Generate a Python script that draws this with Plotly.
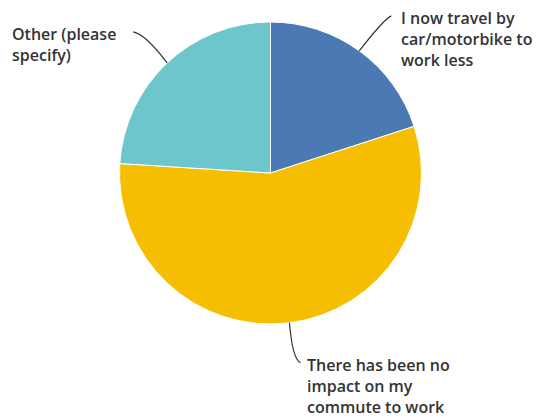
import math
import plotly.graph_objects as go

labels = ["I now travel by car/motorbike to work less",
          "There has been no impact on my commute to work",
          "Other (please specify)"]
label_text = ["I now travel by<br>car/motorbike to<br>work less",
              "There has been no<br>impact on my<br>commute to work",
              "Other (please<br>specify)"]
values = [20, 56, 24]
colors = ["#4b79b4", "#f6be00", "#6cc6cb"]

W, H = 541, 418
OFF = 8  # page body margin
cx, cy, r = 270.5, 173, 151

# label text positions (screen pixels, top-left) and leader curve offsets
text_pos = [(399, 5), (305, 352), (10, 21)]
ctrl_off = [(25, -32), (3, 36), (-22, -29)]
end_off = [(32, -35), (11, 40), (-34, -31)]


def px(x, y):
    return (x - OFF) / W, 1 - (y - OFF) / H


d0 = px(cx - r, cy + r)
d1 = px(cx + r, cy - r)

fig = go.Figure(go.Pie(
    labels=labels, values=values, sort=False, direction="clockwise", rotation=0,
    marker=dict(colors=colors, line=dict(color="white", width=1)),
    textinfo="none", hoverinfo="label+percent", showlegend=False,
    domain=dict(x=[d0[0], d1[0]], y=[d0[1], d1[1]]),
))

total = sum(values)
cum = 0
shapes = []
annotations = []
for i, v in enumerate(values):
    mid = (cum + v / 2) / total
    cum += v
    th = 2 * math.pi * mid
    p = (cx + r * math.sin(th), cy - r * math.cos(th))
    c = (p[0] + ctrl_off[i][0], p[1] + ctrl_off[i][1])
    e = (p[0] + end_off[i][0], p[1] + end_off[i][1])
    P, C, E = px(*p), px(*c), px(*e)
    shapes.append(dict(type="path", xref="paper", yref="paper",
                       path=f"M {P[0]},{P[1]} Q {C[0]},{C[1]} {E[0]},{E[1]}",
                       line=dict(color="#333333", width=1.2)))
    tx, ty = px(*text_pos[i])
    annotations.append(dict(x=tx, y=ty, xref="paper", yref="paper", xanchor="left",
                            yanchor="top", align="left", showarrow=False,
                            text=label_text[i],
                            font=dict(family="Open Sans", size=16, color="#333333", weight=600)))

fig.update_layout(width=W, height=H, margin=dict(l=0, r=0, t=0, b=0),
                  paper_bgcolor="white", plot_bgcolor="white",
                  shapes=shapes, annotations=annotations)
fig.write_html("out.html")
